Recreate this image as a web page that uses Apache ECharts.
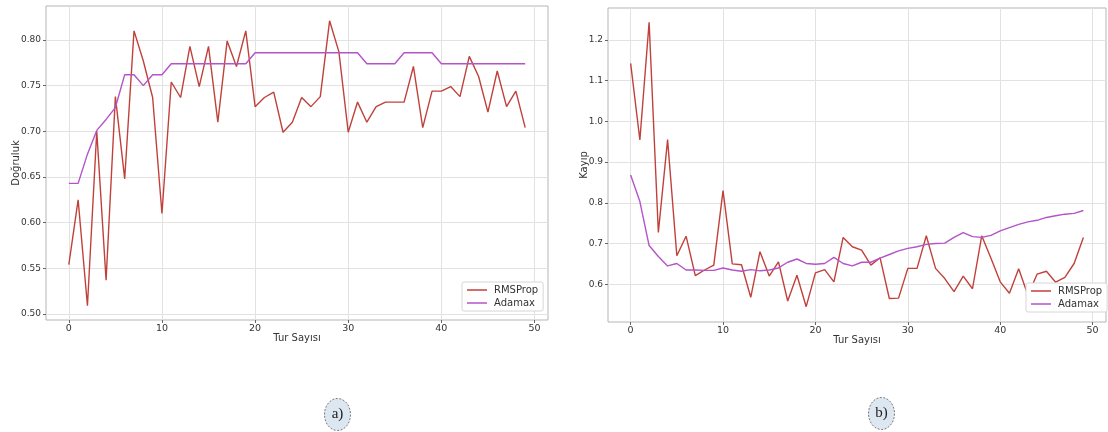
<!DOCTYPE html>
<html>
<head>
<meta charset="utf-8">
<script src="https://cdn.jsdelivr.net/npm/echarts@6/dist/echarts.min.js"></script>
<style>
  html, body { margin: 0; padding: 0; background: #fff; }
  #chart { width: 1108px; height: 432px; }
</style>
</head>
<body>
<div id="chart"></div>
<script>
// Training curves for two optimizers over 50 epochs
const accRMSProp = [
  0.554, 0.625, 0.509, 0.700, 0.537, 0.738, 0.648, 0.810, 0.777, 0.737,
  0.610, 0.754, 0.737, 0.793, 0.749, 0.793, 0.710, 0.799, 0.771, 0.810,
  0.727, 0.737, 0.743, 0.699, 0.710, 0.737, 0.727, 0.738, 0.821, 0.787,
  0.699, 0.732, 0.710, 0.727, 0.732, 0.732, 0.732, 0.771, 0.704, 0.744,
  0.744, 0.749, 0.738, 0.782, 0.760, 0.721, 0.766, 0.727, 0.744, 0.704
];
const accAdamax = [
  0.643, 0.643, 0.675, 0.701, 0.713, 0.726, 0.762, 0.762, 0.750, 0.762,
  0.762, 0.774, 0.774, 0.774, 0.774, 0.774, 0.774, 0.774, 0.774, 0.774,
  0.786, 0.786, 0.786, 0.786, 0.786, 0.786, 0.786, 0.786, 0.786, 0.786,
  0.786, 0.786, 0.774, 0.774, 0.774, 0.774, 0.786, 0.786, 0.786, 0.786,
  0.774, 0.774, 0.774, 0.774, 0.774, 0.774, 0.774, 0.774, 0.774, 0.774
];
const lossRMSProp = [
  1.142, 0.954, 1.243, 0.727, 0.955, 0.670, 0.718, 0.621, 0.635, 0.647,
  0.830, 0.650, 0.648, 0.568, 0.680, 0.620, 0.655, 0.559, 0.622, 0.545,
  0.628, 0.636, 0.606, 0.715, 0.692, 0.684, 0.647, 0.665, 0.565, 0.566,
  0.639, 0.639, 0.719, 0.639, 0.614, 0.582, 0.620, 0.589, 0.719, 0.664,
  0.606, 0.578, 0.638, 0.573, 0.625, 0.632, 0.605, 0.617, 0.651, 0.715
];
const lossAdamax = [
  0.868, 0.803, 0.695, 0.668, 0.645, 0.651, 0.635, 0.635, 0.634, 0.634,
  0.640, 0.635, 0.632, 0.636, 0.633, 0.635, 0.640, 0.654, 0.662, 0.651,
  0.649, 0.651, 0.666, 0.651, 0.645, 0.654, 0.654, 0.664, 0.673, 0.682,
  0.688, 0.692, 0.698, 0.700, 0.701, 0.715, 0.727, 0.717, 0.715, 0.720,
  0.731, 0.739, 0.747, 0.753, 0.757, 0.764, 0.768, 0.772, 0.774, 0.781
];
const xTicks = [0, 10, 20, 30, 40, 50];
const accTicks = [0.50, 0.55, 0.60, 0.65, 0.70, 0.75, 0.80];
const lossTicks = [0.6, 0.7, 0.8, 0.9, 1.0, 1.1, 1.2];
const seriesNames = ['RMSProp', 'Adamax'];
const xTitle = 'Tur Sayısı';
const accTitle = 'Doğruluk';
const lossTitle = 'Kayıp';
const panelTags = ['a)', 'b)'];

const COLORS = ['#c0413b', '#b553c8'];
const FONT = '"DejaVu Sans", sans-serif';

const pairs = arr => arr.map((v, i) => [i, v]);

function xAxisOpt(gridIndex) {
  return {
    type: 'value', gridIndex, min: -2.45, max: 51.45,
    name: xTitle, nameLocation: 'middle', nameGap: 13, nameMoveOverlap: false,
    nameTextStyle: { fontFamily: FONT, fontSize: 10, color: '#333' },
    axisLine: { show: false, onZero: false },
    axisTick: { show: true, customValues: xTicks, length: 3, lineStyle: { color: '#666' } },
    axisLabel: { customValues: xTicks, fontFamily: FONT, fontSize: 9.5, color: '#333', margin: 4 },
    splitLine: { show: true, lineStyle: { color: '#e2e2e2', width: 1 } }
  };
}
function yAxisOpt(gridIndex, min, max, ticks, digits, title, gap, margin) {
  return {
    type: 'value', gridIndex, min, max,
    name: title, nameLocation: 'middle', nameGap: gap, nameMoveOverlap: false,
    nameTextStyle: { fontFamily: FONT, fontSize: 10, color: '#333' },
    axisLine: { show: false, onZero: false },
    axisTick: { show: true, customValues: ticks, length: 3, lineStyle: { color: '#666' } },
    axisLabel: {
      customValues: ticks, fontFamily: FONT, fontSize: 9, color: '#333', margin,
      formatter: v => Number(v).toFixed(digits)
    },
    splitLine: { show: true, lineStyle: { color: '#e2e2e2', width: 1 } }
  };
}
function lineSeries(name, data, idx, colorIdx) {
  return {
    name, type: 'line', xAxisIndex: idx, yAxisIndex: idx,
    data: pairs(data), showSymbol: false, symbol: 'none', animation: false,
    lineStyle: { color: COLORS[colorIdx], width: 1.4 },
    itemStyle: { color: COLORS[colorIdx] }
  };
}
function legendOpt(left, top) {
  return {
    data: seriesNames, orient: 'vertical', left, top,
    icon: 'rect', itemWidth: 20, itemHeight: 1.5, itemGap: 3,
    padding: [3, 5, 3, 5],
    backgroundColor: '#fff', borderColor: '#d6d6d6', borderWidth: 1, borderRadius: 2,
    textStyle: { fontFamily: FONT, fontSize: 10, color: '#333', padding: [0, 0, 0, 2] }
  };
}
function tagGraphic(cx, cy, text) {
  return {
    type: 'group', left: cx - 13, top: cy - 16,
    children: [
      { type: 'ellipse', shape: { cx: 13, cy: 16, rx: 13, ry: 16 },
        style: { fill: '#dde7f2', stroke: '#7a7a7a', lineWidth: 1, lineDash: [2, 1.5] } },
      { type: 'text', x: 13, y: 16,
        style: { text, fill: '#222', font: '15px "Liberation Serif", "DejaVu Serif", serif',
          textAlign: 'center', textVerticalAlign: 'middle' } }
    ]
  };
}

const chart = echarts.init(document.getElementById('chart'), null, { renderer: 'canvas' });
chart.setOption({
  animation: false,
  backgroundColor: '#fff',
  grid: [
    { left: 46, top: 6, width: 502, height: 314, show: true, borderColor: '#b5b5b5', borderWidth: 1, outerBoundsMode: 'none' },
    { left: 608, top: 8, width: 498, height: 314, show: true, borderColor: '#b5b5b5', borderWidth: 1, outerBoundsMode: 'none' }
  ],
  xAxis: [xAxisOpt(0), xAxisOpt(1)],
  yAxis: [
    yAxisOpt(0, 0.4934, 0.8372, accTicks, 2, accTitle, 25, 5),
    yAxisOpt(1, 0.5074, 1.278, lossTicks, 1, lossTitle, 19, 5)
  ],
  legend: [legendOpt(462, 282), legendOpt(1026, 283)],
  series: [
    lineSeries(seriesNames[0], accRMSProp, 0, 0),
    lineSeries(seriesNames[1], accAdamax, 0, 1),
    lineSeries(seriesNames[0], lossRMSProp, 1, 0),
    lineSeries(seriesNames[1], lossAdamax, 1, 1)
  ],
  graphic: [tagGraphic(337, 414, panelTags[0]), tagGraphic(881, 413, panelTags[1])]
});
</script>
</body>
</html>
